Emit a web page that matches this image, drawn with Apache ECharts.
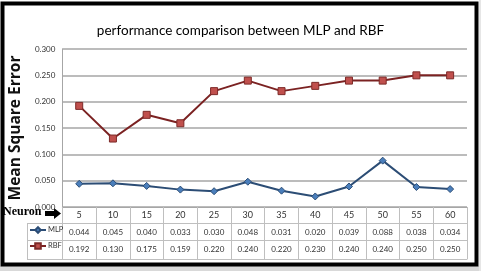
<!DOCTYPE html>
<html>
<head>
<meta charset="utf-8">
<script src="https://cdn.jsdelivr.net/npm/echarts@6/dist/echarts.min.js"></script>
<style>
  html, body { margin: 0; padding: 0; background: #fff; }
  #chart { width: 481px; height: 271px; }
</style>
</head>
<body>
<div id="chart"></div>
<script>
// 数据
var neurons = ['5', '10', '15', '20', '25', '30', '35', '40', '45', '50', '55', '60'];
var mlp = [0.044, 0.045, 0.040, 0.033, 0.030, 0.048, 0.031, 0.020, 0.039, 0.088, 0.038, 0.034];
var rbf = [0.192, 0.130, 0.175, 0.159, 0.220, 0.240, 0.220, 0.230, 0.240, 0.240, 0.250, 0.250];
var yTicks = [0, 0.05, 0.10, 0.15, 0.20, 0.25, 0.30];

(function () {
  var dom = document.getElementById('chart');
  var myChart = echarts.init(dom);

  var gridLine = '#a6a6a6';
  var cellLine = '#bfbfbf';
  var txt = '#333';

  // 表格行：每一行都是一条带偏移的类目轴
  function tableAxis(values, offset, showLabel) {
    return {
      type: 'category',
      position: 'bottom',
      offset: offset,
      data: values.map(function (v) { return typeof v === 'number' ? v.toFixed(3) : v; }),
      axisLine: { show: true, lineStyle: { color: cellLine, width: 1 } },
      axisTick: { show: false },
      axisLabel: { show: showLabel, interval: 0, margin: 5, color: txt, fontSize: 8, fontFamily: 'Lato' },
      splitLine: { show: false }
    };
  }

  var option = {
    animation: false,
    title: {
      text: 'performance comparison between MLP and RBF',
      left: 'center',
      top: 19,
      textStyle: { fontFamily: 'Lato', fontSize: 13.5, fontWeight: 'normal', color: '#000' }
    },
    grid: { left: 62, right: 14, top: 49, bottom: 64 },
    legend: {
      orient: 'vertical',
      left: 29,
      top: 226,
      padding: 0,
      itemGap: 8,
      itemWidth: 16,
      itemHeight: 7,
      textStyle: { fontSize: 7.5, color: txt, fontFamily: 'Lato', padding: [0, 0, 0, -3] },
      data: ['MLP', 'RBF']
    },
    xAxis: [
      {
        type: 'category',
        data: neurons,
        axisLine: { show: true, lineStyle: { color: gridLine } },
        axisTick: { show: true, interval: 0, length: 52, lineStyle: { color: cellLine } },
        axisLabel: { interval: 0, margin: 4, color: txt, fontSize: 9, fontFamily: 'Lato' }
      },
      tableAxis(mlp, 16, true),
      tableAxis(rbf, 33, true),
      tableAxis(neurons, 52, false)
    ],
    yAxis: {
      type: 'value',
      min: 0,
      max: 0.3,
      interval: 0.05,
      name: 'Mean Square Error',
      nameLocation: 'middle',
      nameGap: 31,
      nameRotate: 90,
      nameTextStyle: { fontFamily: 'Open Sans', fontSize: 15.5, fontWeight: 'bold', color: '#111' },
      axisLine: { show: true, lineStyle: { color: gridLine } },
      axisTick: { show: false },
      axisLabel: {
        color: txt, fontSize: 8, fontFamily: 'Lato', margin: 7,
        formatter: function (v) { return v.toFixed(3); }
      },
      splitLine: { lineStyle: { color: gridLine, width: 1.5 } }
    },
    series: [
      {
        name: 'MLP',
        type: 'line',
        data: mlp,
        symbol: 'diamond',
        symbolSize: 7,
        lineStyle: { color: '#2c4d75', width: 2 },
        itemStyle: { color: '#4a7ebb', borderColor: '#2c4d75', borderWidth: 1 }
      },
      {
        name: 'RBF',
        type: 'line',
        data: rbf,
        symbol: 'rect',
        symbolSize: 7,
        lineStyle: { color: '#7b2222', width: 2 },
        itemStyle: { color: '#c0504d', borderColor: '#7d2a28', borderWidth: 1 }
      }
    ],
    graphic: [
      // 表格左侧图例列的边框
      { type: 'line', shape: { x1: 27.5, y1: 223, x2: 27.5, y2: 259 }, style: { stroke: cellLine, lineWidth: 1 } },
      { type: 'line', shape: { x1: 27, y1: 223.5, x2: 62, y2: 223.5 }, style: { stroke: cellLine, lineWidth: 1 } },
      { type: 'line', shape: { x1: 27, y1: 240.5, x2: 62, y2: 240.5 }, style: { stroke: cellLine, lineWidth: 1 } },
      { type: 'line', shape: { x1: 27, y1: 259.5, x2: 62, y2: 259.5 }, style: { stroke: cellLine, lineWidth: 1 } },
      // Neuron 标签和箭头
      {
        type: 'text', left: 3, top: 206,
        style: { text: 'Neuron', font: 'bold 12px "Liberation Serif"', fill: '#000' }
      },
      {
        type: 'polygon',
        shape: { points: [[45, 211], [54, 211], [54, 208], [61, 213.5], [54, 219], [54, 216], [45, 216]] },
        style: { fill: '#000' }
      },
      // 外框
      { type: 'rect', shape: { x: 0, y: 266, width: 481, height: 5 }, style: { fill: '#d9d9d9' } },
      { type: 'rect', shape: { x: 479, y: 0, width: 2, height: 271 }, style: { fill: '#e6e6e6' } },
      {
        type: 'rect', shape: { x: 2.5, y: 3.5, width: 474, height: 261 },
        style: { fill: 'none', stroke: '#000', lineWidth: 4 }
      }
    ]
  };

  if (option && typeof option === 'object') {
    myChart.setOption(option);
  }
})();
</script>
</body>
</html>
